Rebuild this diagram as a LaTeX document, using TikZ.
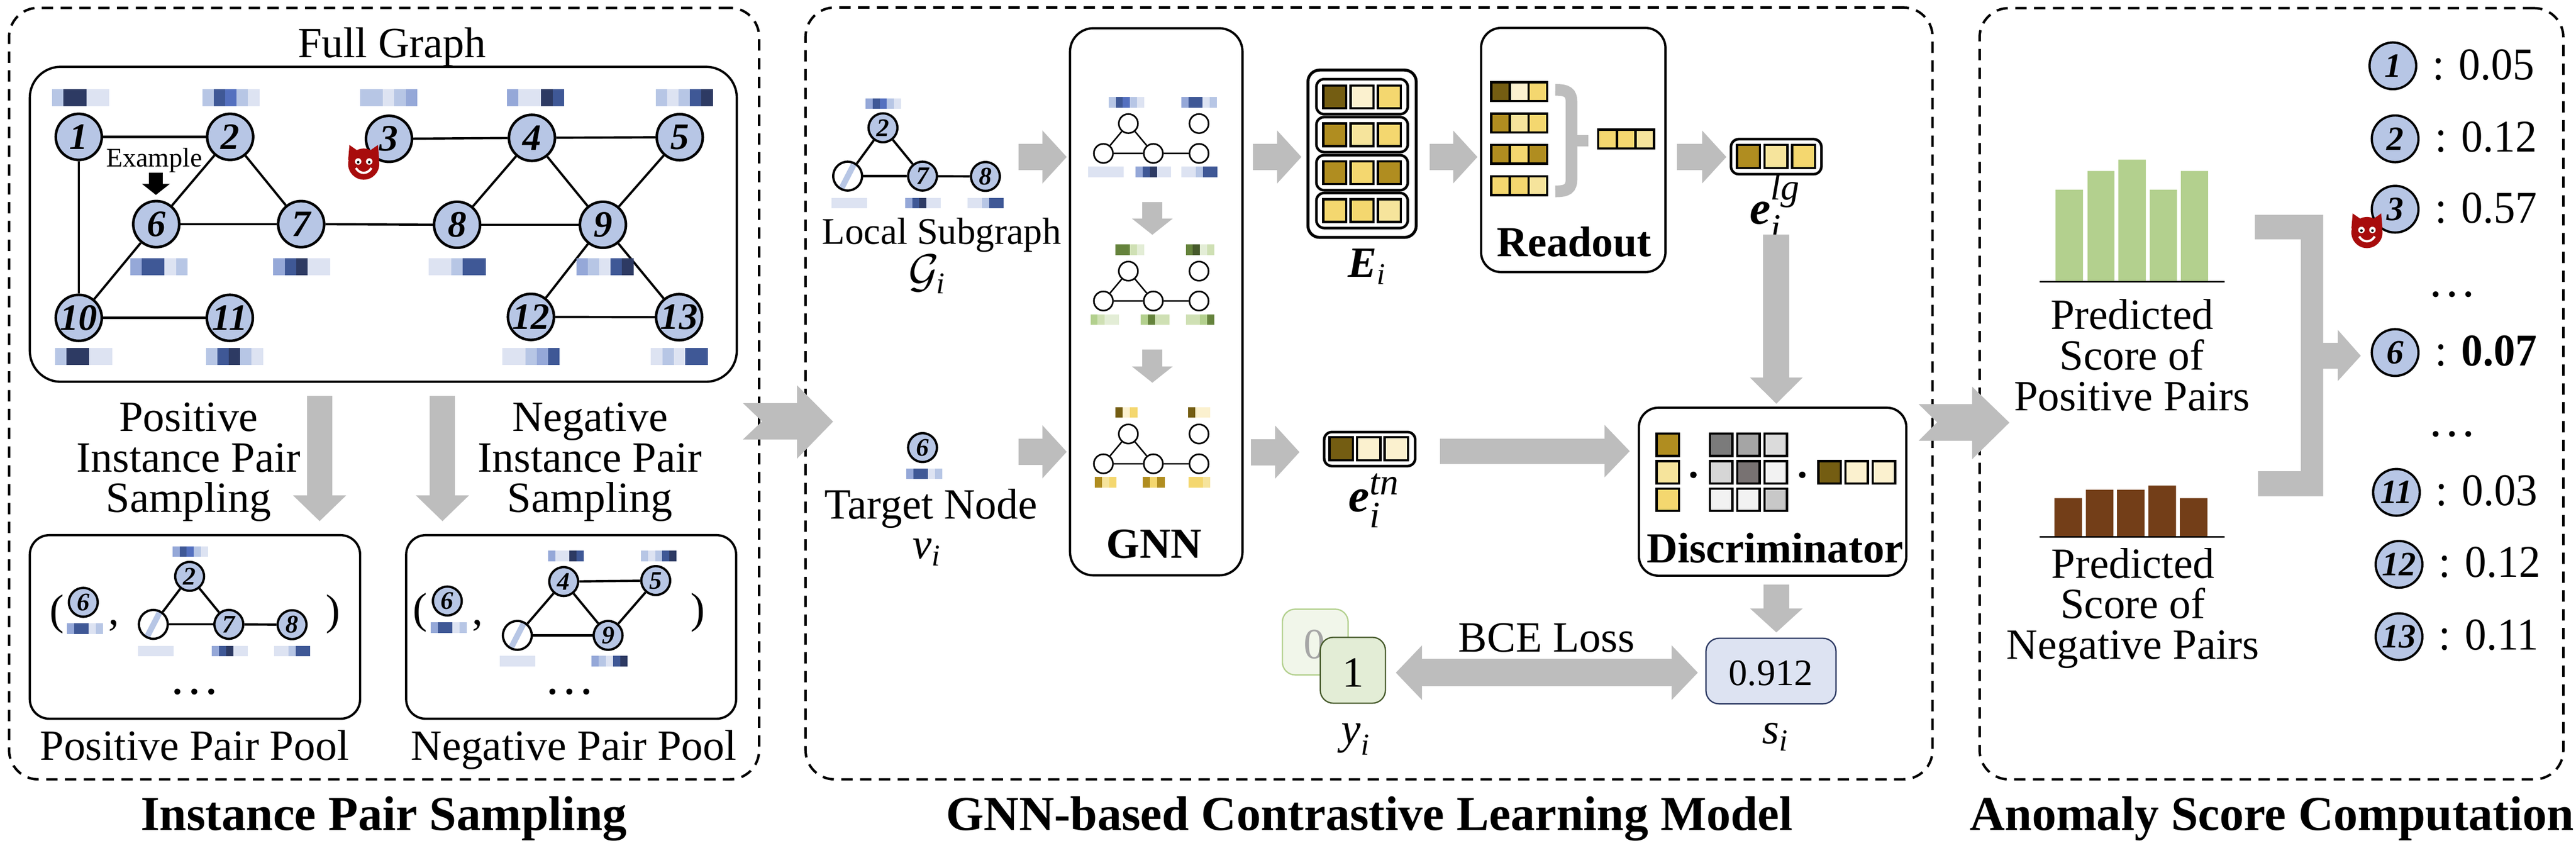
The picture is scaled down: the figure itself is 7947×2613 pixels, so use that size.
\documentclass[tikz,border=0pt]{standalone}
\usepackage{amsmath}
\usepackage{fontspec}
\setmainfont{Liberation Serif}
\usetikzlibrary{arrows.meta}
\DeclareMathSizes{14.5}{14.5}{11.5}{9}
\definecolor{bp}{HTML}{DDE3F2}
\definecolor{bl}{HTML}{B7C6E5}
\definecolor{bm}{HTML}{95A8D8}
\definecolor{bd}{HTML}{3F5896}
\definecolor{bk}{HTML}{2D3A63}
\definecolor{bs}{HTML}{5470BF}
\definecolor{g0}{HTML}{E3EDD6}
\definecolor{g1}{HTML}{CFE0B4}
\definecolor{g2}{HTML}{B3D08E}
\definecolor{g3}{HTML}{65833C}
\definecolor{g4}{HTML}{465A2B}
\definecolor{y0}{HTML}{FBF1CF}
\definecolor{y1}{HTML}{F6E49C}
\definecolor{y2}{HTML}{F4D76F}
\definecolor{y3}{HTML}{B08D20}
\definecolor{y4}{HTML}{745D12}
\definecolor{flowgray}{HTML}{BDBDBD}
\definecolor{devilred}{HTML}{A80C0C}
\definecolor{brownbar}{HTML}{733E18}
\definecolor{m1}{HTML}{7B7B7B}
\definecolor{m2}{HTML}{A5A5A5}
\definecolor{m3}{HTML}{DBDBDB}
\definecolor{m4}{HTML}{D6D6D6}
\definecolor{m5}{HTML}{787272}
\definecolor{m6}{HTML}{F2F2F2}
\definecolor{m7}{HTML}{C8C8C8}
\newcommand{\fsize}[1]{\fontsize{#1}{12.5}\selectfont}
\newcommand{\featbar}[5]{\edef\barcols{#5}
  \foreach \c [count=\i from 0] in \barcols {\fill[fill=\c] ({#1+\i*#3},#2) rectangle ++({#3+.4},#4);}}
\newcommand{\cellrow}[6]{\edef\cellcols{#6}
  \foreach \c [count=\i from 0] in \cellcols {\draw[line width=.7pt,fill=\c] ({#1+\i*#3},#2) rectangle ++(#4,#5);}}
\newcommand{\devil}[2]{\begin{scope}[shift={(#1,#2)}]
  \fill[devilred] (-48,-8) -- (-44,-55) -- (-14,-34) -- cycle;
  \fill[devilred] (48,-8) -- (44,-55) -- (14,-34) -- cycle;
  \fill[devilred] (0,4) circle [radius=4.8pt];
  \fill[white] (-17,-4) circle [radius=1pt] (17,-4) circle [radius=1pt];
  \fill[black] (-17,-2) circle [radius=.4pt] (17,-2) circle [radius=.4pt];
  \draw[white,line width=.7pt] (-24,16) .. controls (-12,36) and (12,36) .. (24,16);
\end{scope}}
\newcommand{\emb}[2]{$\textbf{\textit{e}}_{\textit{i}}^{\textit{#2}}$}
\newcommand{\scoretext}[1]{\scalebox{.95}[1]{: #1}}
\tikzset{
  lab/.style={inner sep=0pt,align=center,font=\fsize{13.3}},
  head/.style={inner sep=0pt,font=\fsize{15}\bfseries},
  boldlab/.style={inner sep=0pt,font=\fsize{13.2}\bfseries},
  panel/.style n args={3}{draw,line width=.7pt,rounded corners=#3pt,minimum width=#1pt,minimum height=#2pt,inner sep=0pt},
  dashpanel/.style={dash pattern=on 3.5pt off 2.3pt},
  bignode/.style={circle,draw,fill=bl,line width=.8pt,minimum size=14.2pt,inner sep=0pt,font=\fsize{11.5}\bfseries\itshape},
  midnode/.style={circle,draw,fill=bl,line width=.7pt,minimum size=8.9pt,inner sep=0pt,font=\fsize{7.8}\bfseries\itshape},
  hatchnode/.style={circle,draw,fill=white,line width=.7pt,minimum size=8.9pt,inner sep=0pt,
    path picture={\draw[bl,line width=1.8pt] (path picture bounding box.south west) ++(2.2pt,0pt) -- ++(4.6pt,8.9pt);}},
  tinynode/.style={circle,draw,fill=white,line width=.5pt,minimum size=5.9pt,inner sep=0pt},
  listnode/.style={circle,draw,fill=bl,line width=.7pt,minimum size=14.4pt,inner sep=0pt,font=\fsize{10.5}\bfseries\itshape},
  scorelab/.style={inner sep=0pt,anchor=base west,font=\fsize{14}},
  edge/.style={line width=.7pt},
  thinedge/.style={line width=.45pt},
  flow/.style n args={3}{draw=flowgray,line width=#1pt,-{Triangle[length=#3pt,width=#2pt]}},
  flowboth/.style n args={3}{draw=flowgray,line width=#1pt,{Triangle[length=#3pt,width=#2pt]}-{Triangle[length=#3pt,width=#2pt]}}
}
\begin{document}
\begin{tikzpicture}[x=.1pt,y=-.1pt]
\useasboundingbox (0,0) rectangle (7947,2613);
\node[panel={231.4}{237.9}{9},dashpanel,line width=.75pt] (sampling) at (1185,1213.5) {};
\node[panel={347.7}{238}{9},dashpanel,line width=.75pt] (model) at (4223.5,1213) {};
\node[panel={180.1}{237.8}{9},dashpanel,line width=.75pt] (scoring) at (7007.5,1214) {};
\node[head,anchor=base] (samplingname) at (1184,2560) {Instance Pair Sampling};
\node[head,anchor=base] (modelname) at (4225,2560) {GNN-based Contrastive Learning Model};
\node[head,anchor=base] (scoringname) at (7009,2560) {Anomaly Score Computation};
% full graph
\node[lab,anchor=base] (fulltitle) at (1209,178) {Full Graph};
\node[panel={218.1}{97.1}{9.5}] (full) at (1182.5,691.5) {};
\foreach \name/\px/\py in {1/243/422,2/710/422,3/1200/428,4/1641/425,5/2097/423,6/482/691,7/929/691,8/1410/693,9/1860/693,10/243/980,11/709/980,12/1638/977,13/2095/978}
  \node[bignode] (n\name) at (\px,\py) {\name};
\foreach \a/\b in {1/2,1/10,2/6,2/7,3/4,4/5,4/8,4/9,5/9,6/7,6/10,7/8,8/9,9/12,9/13,10/11,12/13}
  \draw[edge] (n\a) -- (n\b);
\foreach \px/\py/\cols in {161/275/{bl,bk,bk,bp,bp},624/275/{bl,bd,bs,bl,bp},1111/275/{bl,bl,bp,bl,bm},1564/275/{bm,bp,bp,bk,bd},2023/275/{bl,bp,bl,bd,bk},402/797/{bm,bd,bd,bp,bl},843/797/{bm,bd,bk,bp,bp},1322/797/{bp,bp,bl,bd,bd},1778/797/{bm,bl,bp,bd,bk},170/1073/{bl,bk,bk,bp,bp},635/1073/{bl,bd,bk,bl,bp},1550/1073/{bp,bp,bl,bm,bd},2008/1073/{bp,bl,bp,bd,bd}}
  \featbar{\px}{\py}{35.2}{52}{\cols};
\node[inner sep=0pt,font=\fsize{8.3},anchor=base] (example) at (476,514) {Example};
\coordinate (examplea) at (481,532);
\coordinate (exampleb) at (481,601);
\draw[line width=4.3pt,-{Triangle[length=3.4pt,width=8.4pt]}] (examplea) -- (exampleb);
\devil{1122}{502}
% sampling
\coordinate (posa) at (986,1220);
\coordinate (posb) at (986,1607);
\coordinate (nega) at (1365,1220);
\coordinate (negb) at (1365,1607);
\draw[flow={7.8}{16}{8}] (posa) -- (posb);
\draw[flow={7.8}{16}{8}] (nega) -- (negb);
\node[lab] (postext) at (582,1425) {Positive\\Instance Pair\\Sampling};
\node[lab] (negtext) at (1820,1425) {Negative\\Instance Pair\\Sampling};
\node[panel={101.9}{56.6}{6}] (pospool) at (601.5,1933) {};
\node[panel={101.8}{56.6}{6}] (negpool) at (1762,1933) {};
\node[lab,anchor=base] (posname) at (600,2344) {Positive Pair Pool};
\node[lab,anchor=base] (negname) at (1770,2344) {Negative Pair Pool};
\node[lab] (posopen) at (175,1894) {(};
\node[lab] (posclose) at (1028,1894) {)};
\node[lab,anchor=base] (poscomma) at (351,1925) {,};
\node[midnode] (p6) at (257,1857) {6};
\node[hatchnode] (ph) at (473,1925) {};
\node[midnode] (p2) at (585,1777) {2};
\node[midnode] (p7) at (706,1925) {7};
\node[midnode] (p8) at (901,1926) {8};
\foreach \a/\b in {h/2,h/7,2/7,7/8}
  \draw[edge] (p\a) -- (p\b);
\foreach \px/\py/\cols in {207/1922/{bm,bd,bd,bp,bl},532/1684/{bm,bd,bs,bl,bp},426/1991/{bp,bp,bp,bp,bp},654/1991/{bm,bd,bk,bp,bp},846/1991/{bp,bp,bl,bd,bd}}
  \featbar{\px}{\py}{22}{33}{\cols};
\node[lab,anchor=base,font=\fsize{15.6}] (posdots) at (600,2140) {…};
\node[lab] (negopen) at (1296,1889) {(};
\node[lab] (negclose) at (2152,1889) {)};
\node[lab,anchor=base] (negcomma) at (1474,1925) {,};
\node[midnode] (q6) at (1380,1853) {6};
\node[hatchnode] (qh) at (1596,1959) {};
\node[midnode] (q4) at (1739,1793) {4};
\node[midnode] (q5) at (2023,1790) {5};
\node[midnode] (q9) at (1876,1959) {9};
\foreach \a/\b in {h/4,h/9,4/5,4/9,5/9}
  \draw[edge] (q\a) -- (q\b);
\foreach \px/\py/\cols in {1329/1919/{bm,bd,bd,bp,bl},1691/1698/{bm,bp,bp,bk,bd},1977/1698/{bl,bp,bl,bd,bk},1541/2022/{bp,bp,bp,bp,bp},1825/2022/{bm,bl,bp,bd,bk}}
  \featbar{\px}{\py}{22}{33}{\cols};
\node[lab,anchor=base,font=\fsize{15.6}] (negdots) at (1757,2140) {…};
\fill[flowgray] (2292,1243) -- (2459,1243) -- (2459,1188) -- (2570,1300) -- (2459,1414) -- (2459,1355) -- (2292,1355) -- (2351,1299) -- cycle;
% inputs
\node[midnode] (g2) at (2724,394) {2};
\node[hatchnode] (gh) at (2615,543) {};
\node[midnode] (g7) at (2846,543) {7};
\node[midnode] (g8) at (3040,544) {8};
\foreach \a/\b in {h/2,h/7,2/7,7/8}
  \draw[edge] (g\a) -- (g\b);
\foreach \px/\py/\cols in {2670/303/{bm,bd,bs,bl,bp},2565/610/{bp,bp,bp,bp,bp},2792/610/{bm,bd,bk,bp,bp},2985/610/{bp,bp,bl,bd,bd},2796/1445/{bm,bd,bd,bp,bl}}
  \featbar{\px}{\py}{22}{32}{\cols};
\node[lab,anchor=base,font=\fsize{11.6}] (localname) at (2905,752) {Local Subgraph};
\node[lab,anchor=base] (localsym) at (2861,884) {$\mathcal{G}_{\textit{i}}$};
\node[midnode] (t6) at (2846,1380) {6};
\node[lab,anchor=base] (targetname) at (2872,1599) {Target Node};
\node[lab,anchor=base] (targetsym) at (2861,1722) {$\textit{v}_{\textit{i}}$};
% gnn
\node[panel={53.2}{168.7}{7.2}] (gnn) at (3567,930.5) {};
\node[boldlab,anchor=base] (gnnname) at (3560,1720) {GNN};
\foreach \k/\dy in {a/0,b/455,c/957} {
  \begin{scope}[yshift=-\dy*.1pt]
  \node[tinynode] (\k1) at (3481,381) {};
  \node[tinynode] (\k2) at (3699,381) {};
  \node[tinynode] (\k3) at (3404,473) {};
  \node[tinynode] (\k4) at (3558,473) {};
  \node[tinynode] (\k5) at (3699,473) {};
  \draw[thinedge] (\k1) -- (\k3) (\k1) -- (\k4) (\k3) -- (\k4) (\k4) -- (\k5);
  \end{scope}
}
\foreach \px/\py/\cols in {3420/299/{bl,bd,bs,bl,bp},3644/299/{bm,bd,bd,bp,bl},3356/514/{bp,bp,bp,bp,bp},3503/514/{bm,bd,bk,bp,bp},3645/514/{bp,bp,bl,bd,bd}}
  \featbar{\px}{\py}{22}{33}{\cols};
\foreach \px/\py/\cols in {3441/754/{g3,g3,g1,g0},3658/754/{g3,g4,g0,g1},3364/969/{g2,g1,g0,g0},3519/969/{g2,g3,g1,g1},3658/969/{g1,g1,g2,g3}}
  \featbar{\px}{\py}{22}{33}{\cols};
\foreach \px/\py/\cols in {3441/1255/{y4,y0,y2},3665/1255/{y4,y0,y0},3377/1470/{y3,y1,y2},3525/1470/{y3,y2,y3},3666/1470/{y2,y2,y1}}
  \featbar{\px}{\py}{22.5}{33}{\cols};
\coordinate (gnna) at (3555,623);
\coordinate (gnnb) at (3555,724);
\coordinate (gnnc) at (3555,1078);
\coordinate (gnnd) at (3555,1180);
\draw[flow={6.2}{12.3}{5}] (gnna) -- (gnnb);
\draw[flow={6.2}{12.3}{5}] (gnnc) -- (gnnd);
% embeddings
\node[panel={33.4}{51.6}{3.6},line width=.9pt] (ebox) at (4202,474) {};
\foreach \k/\py in {1/298,2/415,3/532.5,4/649}
  \node[panel={28.2}{10.8}{2.4},line width=.8pt] (erow\k) at (4202,\py) {};
\cellrow{4082.5}{263.5}{84}{71}{70}{y4,y0,y2}
\cellrow{4082.5}{380.5}{84}{71}{70}{y3,y1,y2}
\cellrow{4082.5}{497.5}{84}{71}{70}{y3,y2,y3}
\cellrow{4082.5}{614.5}{84}{71}{70}{y2,y2,y1}
\node[lab,anchor=base] (esym) at (4218,855) {$\textbf{\textit{E}}_{\textit{i}}$};
\node[panel={56.9}{75.3}{6.2}] (readout) at (4853.5,462.5) {};
\node[boldlab,anchor=base] (readoutname) at (4856,791) {Readout};
\cellrow{4600.5}{253.5}{57.5}{57.5}{58}{y4,y0,y2}
\cellrow{4600.5}{350.5}{57.5}{57.5}{58}{y3,y1,y2}
\cellrow{4600.5}{446.5}{57.5}{57.5}{58}{y3,y2,y3}
\cellrow{4600.5}{543.5}{57.5}{57.5}{58}{y2,y2,y1}
\cellrow{4930.5}{399.5}{57.5}{57.5}{58}{y2,y2,y1}
\draw[flowgray,line width=3.6pt] (4798,277) .. controls (4835,277) and (4848,285) .. (4848,315) -- (4848,552) .. controls (4848,582) and (4835,590) .. (4798,590);
\draw[flowgray,line width=3.6pt] (4848,434) -- (4900,434);
\node[panel={27.9}{10.8}{2.4},line width=.8pt] (lgbox) at (5479.5,483) {};
\cellrow{5358.5}{446.5}{85}{71}{72}{y3,y1,y2}
\node[lab,anchor=base,font=\fsize{14.5}] (lgsym) at (5477,690) {\emb{e}{lg}};
\node[panel={28.1}{10.5}{2.4},line width=.8pt] (tnbox) at (4225.5,1384.5) {};
\cellrow{4101.5}{1347.5}{85}{72}{72}{y4,y0,y0}
\node[lab,anchor=base,font=\fsize{14.5}] (tnsym) at (4240,1578) {\emb{e}{tn}};
% discriminator
\node[panel={82.5}{51.8}{6}] (disc) at (5468.5,1516) {};
\node[boldlab,anchor=base] (discname) at (5476,1735) {Discriminator};
\cellrow{5110.5}{1336.5}{85}{69}{69}{y3}
\cellrow{5110.5}{1421.5}{85}{69}{69}{y1}
\cellrow{5110.5}{1506.5}{85}{69}{69}{y2}
\cellrow{5275.5}{1336.5}{84}{69}{69}{m1,m2,m3}
\cellrow{5275.5}{1421.5}{84}{69}{69}{m4,m5,m6}
\cellrow{5275.5}{1506.5}{84}{69}{69}{m6,m6,m7}
\cellrow{5609.5}{1421.5}{84}{69}{69}{y4,y0,y0}
\fill (5224,1464) circle [radius=1pt] (5560,1464) circle [radius=1pt];
\node[panel={20.3}{20.3}{4},draw=g2,line width=.4pt,fill=g0!50] (label0) at (4057.5,1979.5) {};
\node[lab,text=black!35] (zero) at (4055,1987) {0};
\node[panel={20.1}{20.3}{4},draw=g4,line width=.4pt,fill=g0] (label1) at (4173.5,2066.5) {};
\node[lab] (one) at (4174,2074) {1};
\node[panel={40.1}{20.2}{4},draw=bk,line width=.4pt,fill=bp] (score) at (5463.5,2069) {};
\node[lab,font=\fsize{11.5}] (scoreval) at (5463,2076) {0.912};
\node[lab,anchor=base] (bcename) at (4771,2010) {BCE Loss};
\node[lab,anchor=base,font=\fsize{13.5}] (labelsym) at (4184,2293) {$\textit{y}_{\textit{i}}$};
\node[lab,anchor=base,font=\fsize{13.5}] (scoresym) at (5478,2293) {$\textit{s}_{\textit{i}}$};
% flows
\coordinate (f1a) at (3142,484);  \coordinate (f1b) at (3291,484);
\coordinate (f2a) at (3142,1393); \coordinate (f2b) at (3291,1393);
\coordinate (f3a) at (3865,484);  \coordinate (f3b) at (4015,484);
\coordinate (f4a) at (3859,1394); \coordinate (f4b) at (4009,1394);
\coordinate (f5a) at (4410,484);  \coordinate (f5b) at (4558,484);
\coordinate (f6a) at (5174,484);  \coordinate (f6b) at (5326,484);
\coordinate (f7a) at (4442,1391); \coordinate (f7b) at (5028,1391);
\coordinate (f8a) at (5480,723);  \coordinate (f8b) at (5480,1245);
\coordinate (f9a) at (5480,1802); \coordinate (f9b) at (5480,1950);
\coordinate (f10a) at (4306,2074); \coordinate (f10b) at (5238,2074);
\foreach \a/\b in {f1a/f1b,f2a/f2b,f3a/f3b,f4a/f4b,f5a/f5b,f6a/f6b}
  \draw[flow={8.1}{15.9}{7.5}] (\a) -- (\b);
\draw[flow={7.8}{15.7}{7.8}] (f7a) -- (f7b);
\draw[flow={8.1}{15.8}{8.1}] (f8a) -- (f8b);
\draw[flow={8}{15.8}{7.4}] (f9a) -- (f9b);
\draw[flowboth={8.4}{16.4}{8.1}] (f10a) -- (f10b);
\fill[flowgray] (5919,1246) -- (6084,1246) -- (6084,1192) -- (6199,1303) -- (6084,1416) -- (6084,1359) -- (5919,1359) -- (5976,1302) -- cycle;
% scores
\fill[g2] (6341,585) rectangle (6426,868) (6440,527) rectangle (6523,868) (6535,492) rectangle (6620,868) (6632,585) rectangle (6716,868) (6728,527) rectangle (6812,868);
\fill[brownbar] (6338,1536) rectangle (6423,1655) (6435,1510) rectangle (6520,1655) (6531,1510) rectangle (6616,1655) (6628,1497) rectangle (6713,1655) (6725,1536) rectangle (6810,1655);
\coordinate (posaxisa) at (6292,868);  \coordinate (posaxisb) at (6863,868);
\coordinate (negaxisa) at (6292,1655); \coordinate (negaxisb) at (6863,1655);
\draw[line width=.5pt] (posaxisa) -- (posaxisb);
\draw[line width=.5pt] (negaxisa) -- (negaxisb);
\node[lab] (pospred) at (6577,1095) {Predicted\\Score of\\Positive Pairs};
\node[lab] (negpred) at (6580,1875) {Predicted\\Score of\\Negative Pairs};
\fill[flowgray] (6956,662) -- (7167,662) -- (7167,1057) -- (7212,1057) -- (7212,1017) -- (7283,1097) -- (7212,1175) -- (7212,1137) -- (7167,1137) -- (7167,1530) -- (6966,1530) -- (6966,1453) -- (7098,1453) -- (7098,738) -- (6956,738) -- cycle;
\foreach \name/\px/\py/\tx/\ty/\val in {1/7382/203/7502/245/0.05,2/7389/428/7510/468/0.12,3/7389/645/7510/687/0.57,11/7393/1518/7512/1558/0.03,12/7401/1740/7521/1780/0.12,13/7401/1963/7521/2003/0.11} {
  \node[listnode] (r\name) at (\px,\py) {\name};
  \node[scorelab] (v\name) at (\tx,\ty) {\scoretext{\val}};
}
\node[listnode] (r6) at (7389,1087) {6};
\node[scorelab] (v6) at (7510,1128) {\scoretext{\textbf{0.07}}};
\node[lab,anchor=base,font=\fsize{15}] (dots1) at (7565,914) {…};
\node[lab,anchor=base,font=\fsize{15}] (dots2) at (7565,1346) {…};
\devil{7302}{713}
\end{tikzpicture}
\end{document}
